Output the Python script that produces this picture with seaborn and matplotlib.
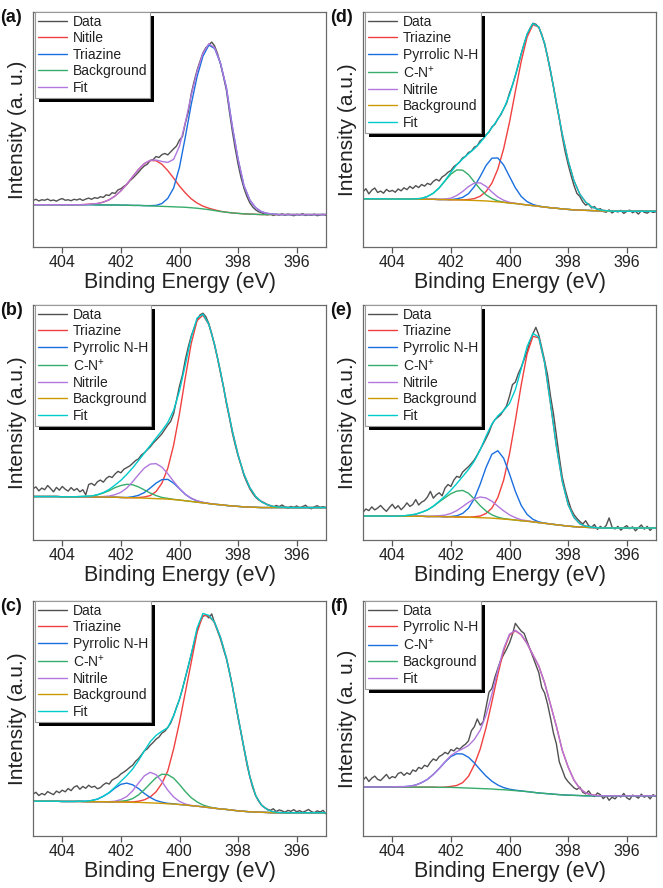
import numpy as np
import matplotlib
matplotlib.use('Agg')
import matplotlib.pyplot as plt
import matplotlib.patheffects as pe
import seaborn as sns

sns.set_style('white')
plt.rcParams['font.family'] = ['Liberation Sans', 'DejaVu Sans']
plt.rcParams['mathtext.default'] = 'regular'

# Binding energy axes: raw spectra every 0.1 eV, fitted curves every 0.2 eV
energy = np.round(np.linspace(405, 395, 101), 1)
grid = np.round(np.linspace(405, 395, 51), 1)

# ---------------- panel (a) ----------------
a_data = [.198, .203, .196, .201, .199, .204, .197, .200, .195, .202,
          .206, .199, .201, .197, .203, .200, .205, .198, .204, .208,
          .203, .210, .207, .214, .211, .222, .219, .231, .228, .243,
          .248, .258, .266, .281, .292, .305, .318, .333, .345, .352,
          .368, .372, .385, .381, .393, .398, .392, .405, .418, .430,
          .455, .470, .528, .575, .652, .705, .752, .790, .826, .848,
          .860, .872, .855, .822, .778, .725, .668, .580, .495, .420,
          .352, .295, .250, .215, .188, .170, .158, .150, .146, .140,
          .137, .142, .134, .139, .136, .141, .135, .140, .137, .133,
          .139, .136, .142, .134, .138, .135, .140, .133, .137, .139,
          .135]
a_bg = [.180, .180, .180, .180, .180, .180, .180, .180, .180, .180,
        .180, .179, .179, .179, .179, .178, .178, .177, .177, .176,
        .175, .174, .173, .172, .171, .170, .169, .167, .165, .162,
        .159, .155, .151, .148, .145, .143, .141, .140, .139, .138,
        .138, .138, .138, .138, .138, .138, .138, .138, .138, .138,
        .138]
a_nitile = [0, 0, 0, 0, 0, 0, 0, 0, 0, .001,
            .003, .006, .012, .022, .038, .061, .089, .122, .153, .179,
            .193, .193, .179, .153, .122, .089, .061, .038, .022, .012,
            .006, .003, .001, 0, 0, 0, 0, 0, 0, 0,
            0, 0, 0, 0, 0, 0, 0, 0, 0, 0,
            0]
a_triazine = [0, 0, 0, 0, 0, 0, 0, 0, 0, 0,
              0, 0, 0, 0, 0, 0, 0, 0, 0, 0,
              .001, .003, .012, .035, .080, .170, .300, .440, .560, .650,
              .700, .690, .630, .530, .370, .230, .120, .060, .028, .012,
              .005, .002, 0, 0, 0, 0, 0, 0, 0, 0,
              0]

# ---------------- panel (b) ----------------
b_data = [.218, .226, .209, .221, .214, .232, .219, .205, .224, .212,
          .228, .216, .208, .223, .211, .219, .205, .214, .192, .236,
          .241, .232, .248, .255, .246, .262, .271, .266, .281, .292,
          .286, .301, .308, .315, .326, .338, .345, .362, .371, .384,
          .396, .412, .425, .438, .452, .471, .489, .505, .538, .596,
          .655, .702, .768, .822, .868, .902, .935, .958, .965, .950,
          .921, .878, .826, .772, .710, .652, .581, .522, .458, .405,
          .358, .318, .275, .245, .218, .198, .182, .171, .164, .158,
          .151, .146, .139, .147, .142, .149, .141, .135, .143, .138,
          .145, .136, .142, .148, .137, .133, .141, .146, .138, .142,
          .137]
b_bg = [.185, .185, .185, .185, .185, .184, .184, .184, .184, .184,
        .183, .183, .183, .182, .182, .181, .180, .180, .179, .178,
        .177, .176, .175, .174, .172, .170, .167, .164, .161, .158,
        .155, .152, .150, .147, .145, .143, .141, .140, .139, .138,
        .138, .138, .138, .138, .138, .138, .138, .138, .138, .138,
        .138]
b_triazine = [0, 0, 0, 0, 0, 0, 0, 0, 0, 0,
              0, 0, 0, 0, 0, 0, 0, 0, .002, .005,
              .012, .030, .067, .131, .232, .368, .525, .672, .773, .799,
              .762, .679, .566, .441, .321, .219, .139, .083, .046, .024,
              .012, .005, .002, .001, 0, 0, 0, 0, 0, 0,
              0]
b_pyrrolic = [0, 0, 0, 0, 0, 0, 0, 0, 0, 0,
              0, 0, 0, 0, 0, 0, .001, .004, .011, .024,
              .044, .066, .082, .084, .070, .048, .027, .013, .005, .002,
              0, 0, 0, 0, 0, 0, 0, 0, 0, 0,
              0, 0, 0, 0, 0, 0, 0, 0, 0, 0,
              0]
b_cn = [0, 0, 0, 0, 0, 0, 0, 0, .001, .002,
        .004, .009, .017, .028, .041, .051, .057, .055, .047, .035,
        .023, .013, .006, .003, .001, 0, 0, 0, 0, 0,
        0, 0, 0, 0, 0, 0, 0, 0, 0, 0,
        0, 0, 0, 0, 0, 0, 0, 0, 0, 0,
        0]
b_nitrile = [0, 0, 0, 0, 0, 0, 0, 0, 0, 0,
             0, .001, .002, .005, .011, .022, .041, .068, .099, .128,
             .146, .149, .135, .108, .077, .049, .027, .014, .006, .002,
             .001, 0, 0, 0, 0, 0, 0, 0, 0, 0,
             0, 0, 0, 0, 0, 0, 0, 0, 0, 0,
             0]

# ---------------- panel (c) ----------------
c_data = [.178, .186, .172, .181, .175, .189, .182, .176, .191, .184,
          .195, .188, .202, .193, .208, .214, .199, .211, .203, .216,
          .207, .212, .201, .206, .218, .226, .221, .238, .245, .252,
          .264, .272, .281, .292, .301, .318, .329, .345, .362, .371,
          .386, .398, .412, .421, .438, .446, .462, .481, .512, .548,
          .582, .625, .675, .722, .772, .821, .872, .912, .935, .941,
          .928, .945, .905, .872, .838, .795, .755, .702, .641, .572,
          .502, .438, .372, .305, .252, .205, .172, .148, .132, .121,
          .114, .109, .116, .104, .111, .107, .101, .109, .105, .112,
          .103, .108, .101, .106, .113, .104, .099, .107, .102, .109,
          .094]
c_bg = [.148, .148, .148, .148, .148, .147, .147, .147, .147, .146,
        .146, .146, .146, .145, .145, .145, .144, .143, .143, .142,
        .141, .140, .139, .137, .136, .134, .132, .129, .127, .124,
        .121, .118, .115, .113, .110, .107, .105, .103, .102, .101,
        .100, .099, .099, .099, .099, .099, .099, .099, .099, .099,
        .099]
c_triazine = [0, 0, 0, 0, 0, 0, 0, 0, 0, 0,
              0, 0, 0, 0, 0, 0, .001, .002, .005, .012,
              .025, .048, .085, .140, .235, .350, .480, .610, .740, .815,
              .815, .790, .730, .645, .530, .400, .270, .150, .070, .030,
              .012, .004, .001, 0, 0, 0, 0, 0, 0, 0,
              0]
c_pyrrolic = [0, 0, 0, 0, 0, 0, 0, 0, .001, .002,
              .005, .011, .023, .039, .059, .075, .081, .075, .059, .039,
              .023, .011, .005, .002, .001, 0, 0, 0, 0, 0,
              0, 0, 0, 0, 0, 0, 0, 0, 0, 0,
              0, 0, 0, 0, 0, 0, 0, 0, 0, 0,
              0]
c_cn = [0, 0, 0, 0, 0, 0, 0, 0, 0, 0,
        0, 0, 0, 0, .001, .003, .007, .016, .032, .055,
        .082, .108, .124, .124, .110, .085, .057, .034, .018, .008,
        .003, .001, 0, 0, 0, 0, 0, 0, 0, 0,
        0, 0, 0, 0, 0, 0, 0, 0, 0, 0,
        0]
c_nitrile = [0, 0, 0, 0, 0, 0, 0, 0, 0, 0,
             0, 0, 0, .001, .003, .010, .024, .049, .082, .114,
             .130, .121, .093, .058, .030, .013, .004, .001, 0, 0,
             0, 0, 0, 0, 0, 0, 0, 0, 0, 0,
             0, 0, 0, 0, 0, 0, 0, 0, 0, 0,
             0]

# ---------------- panel (d) ----------------
d_data = [.235, .248, .226, .242, .251, .232, .238, .229, .245, .236,
          .241, .233, .247, .239, .252, .244, .258, .249, .261, .253,
          .266, .259, .271, .265, .279, .288, .281, .298, .306, .318,
          .325, .342, .351, .362, .379, .386, .402, .408, .425, .431,
          .452, .461, .478, .489, .511, .522, .545, .562, .588, .612,
          .655, .688, .729, .774, .822, .865, .902, .931, .952, .948,
          .934, .905, .862, .809, .745, .682, .610, .545, .470, .405,
          .352, .305, .262, .228, .215, .192, .178, .184, .166, .172,
          .158, .163, .151, .148, .158, .145, .153, .149, .156, .143,
          .151, .157, .146, .152, .140, .155, .148, .144, .153, .147,
          .150]
d_bg = [.205, .205, .205, .205, .205, .204, .204, .204, .204, .204,
        .203, .203, .203, .202, .202, .201, .201, .200, .199, .198,
        .197, .196, .194, .192, .190, .187, .185, .182, .179, .176,
        .173, .170, .167, .165, .162, .160, .158, .157, .156, .155,
        .154, .153, .152, .152, .152, .152, .152, .152, .152, .152,
        .152]
d_triazine = [0, 0, 0, 0, 0, 0, 0, 0, 0, 0,
              0, 0, 0, 0, 0, 0, 0, .001, .003, .008,
              .019, .040, .078, .139, .228, .344, .477, .608, .714, .770,
              .763, .696, .583, .450, .319, .208, .124, .068, .035, .016,
              .007, .003, .001, 0, 0, 0, 0, 0, 0, 0,
              0]
d_pyrrolic = [0, 0, 0, 0, 0, 0, 0, 0, 0, 0,
              0, 0, 0, 0, 0, .001, .004, .011, .028, .059,
              .103, .151, .184, .187, .159, .113, .067, .033, .014, .005,
              .001, 0, 0, 0, 0, 0, 0, 0, 0, 0,
              0, 0, 0, 0, 0, 0, 0, 0, 0, 0,
              0]
d_cn = [0, 0, 0, 0, 0, 0, 0, 0, 0, .001,
        .004, .012, .026, .049, .079, .109, .127, .127, .109, .079,
        .049, .026, .012, .004, .001, 0, 0, 0, 0, 0,
        0, 0, 0, 0, 0, 0, 0, 0, 0, 0,
        0, 0, 0, 0, 0, 0, 0, 0, 0, 0,
        0]
d_nitrile = [0, 0, 0, 0, 0, 0, 0, 0, 0, 0,
             0, 0, 0, .001, .002, .007, .018, .036, .058, .074,
             .076, .062, .040, .021, .009, .003, .001, 0, 0, 0,
             0, 0, 0, 0, 0, 0, 0, 0, 0, 0,
             0, 0, 0, 0, 0, 0, 0, 0, 0, 0,
             0]

# ---------------- panel (e) ----------------
e_data = [.118, .132, .125, .141, .128, .136, .147, .133, .122, .138,
          .152, .134, .146, .129, .141, .158, .143, .151, .172, .149,
          .161, .168, .183, .207, .178, .192, .201, .188, .221, .236,
          .228, .255, .271, .266, .289, .301, .312, .326, .341, .362,
          .385, .408, .432, .458, .491, .512, .522, .533, .552, .571,
          .612, .661, .672, .708, .735, .768, .802, .845, .878, .905,
          .872, .818, .762, .701, .612, .538, .445, .352, .268, .215,
          .171, .132, .108, .092, .079, .068, .082, .061, .054, .066,
          .045, .058, .049, .062, .094, .055, .047, .058, .042, .053,
          .061, .048, .056, .039, .052, .064, .046, .058, .041, .053,
          .049]
e_bg = [.102, .102, .102, .102, .102, .101, .101, .101, .101, .101,
        .101, .100, .100, .100, .099, .099, .098, .098, .097, .096,
        .095, .094, .093, .091, .089, .087, .085, .082, .080, .077,
        .074, .071, .068, .065, .062, .059, .057, .055, .054, .053,
        .052, .051, .051, .051, .051, .051, .051, .051, .051, .051,
        .051]
e_triazine = [0, 0, 0, 0, 0, 0, 0, 0, 0, 0,
              0, 0, 0, 0, 0, 0, 0, 0, 0, .003,
              .007, .019, .043, .089, .166, .279, .423, .578, .712, .790,
              .786, .681, .512, .334, .188, .092, .039, .014, .005, .002,
              0, 0, 0, 0, 0, 0, 0, 0, 0, 0,
              0]
e_pyrrolic = [0, 0, 0, 0, 0, 0, 0, 0, 0, 0,
              0, 0, 0, 0, 0, .001, .005, .015, .038, .080,
              .143, .215, .272, .289, .259, .194, .122, .065, .029, .011,
              .003, .001, 0, 0, 0, 0, 0, 0, 0, 0,
              0, 0, 0, 0, 0, 0, 0, 0, 0, 0,
              0]
e_cn = [0, 0, 0, 0, 0, 0, .001, .002, .005, .009,
        .017, .028, .043, .062, .081, .098, .110, .113, .102, .078,
        .051, .029, .014, .006, .002, .001, 0, 0, 0, 0,
        0, 0, 0, 0, 0, 0, 0, 0, 0, 0,
        0, 0, 0, 0, 0, 0, 0, 0, 0, 0,
        0]
e_nitrile = [0, 0, 0, 0, 0, 0, 0, 0, 0, 0,
             0, 0, .001, .003, .007, .014, .027, .044, .063, .079,
             .088, .085, .072, .053, .035, .020, .010, .004, .002, .001,
             0, 0, 0, 0, 0, 0, 0, 0, 0, 0,
             0, 0, 0, 0, 0, 0, 0, 0, 0, 0,
             0]

# ---------------- panel (f) ----------------
f_data = [.238, .251, .232, .246, .255, .241, .236, .249, .262, .244,
          .253, .248, .266, .271, .258, .269, .262, .281, .275, .292,
          .286, .301, .295, .314, .328, .321, .338, .345, .356, .349,
          .368, .362, .375, .369, .382, .391, .405, .448, .465, .498,
          .472, .485, .548, .612, .628, .675, .712, .748, .772, .795,
          .822, .858, .905, .888, .872, .862, .828, .795, .762, .728,
          .695, .632, .608, .561, .502, .438, .392, .315, .282, .248,
          .231, .218, .205, .198, .208, .186, .179, .192, .174, .168,
          .183, .176, .159, .171, .152, .165, .158, .172, .166, .181,
          .163, .155, .174, .169, .161, .178, .165, .172, .158, .176,
          .168]
f_bg = [.209, .209, .209, .209, .209, .209, .209, .208, .208, .208,
        .208, .208, .208, .207, .207, .207, .206, .205, .204, .203,
        .202, .201, .200, .198, .197, .195, .193, .191, .189, .186,
        .183, .181, .179, .177, .175, .174, .173, .172, .171, .171,
        .171, .171, .171, .171, .171, .171, .171, .171, .171, .171,
        .171]
f_pyrrolic = [0, 0, 0, 0, 0, 0, 0, 0, 0, 0,
              0, 0, 0, 0, .001, .004, .009, .022, .050, .100,
              .168, .260, .371, .488, .591, .660, .680, .665, .630, .585,
              .540, .470, .380, .290, .190, .120, .065, .030, .012, .004,
              .001, 0, 0, 0, 0, 0, 0, 0, 0, 0,
              0]
f_cn = [0, 0, 0, 0, 0, 0, .001, .002, .004, .009,
        .019, .033, .054, .080, .108, .131, .144, .144, .131, .108,
        .080, .054, .033, .019, .009, .004, .002, .001, 0, 0,
        0, 0, 0, 0, 0, 0, 0, 0, 0, 0,
        0, 0, 0, 0, 0, 0, 0, 0, 0, 0,
        0]

ticks = [404, 402, 400, 398, 396]
colors = ['#515151', '#F14040', '#1A6FDF', '#37AD6B', '#B177DE', '#CC9900', '#00CBCC']
cn_label = 'C-N$^{+}$'

panels = [
    ('(a)', 'Intensity (a. u.)', a_data, a_bg,
     [('Nitile', a_nitile), ('Triazine', a_triazine)]),
    ('(b)', 'Intensity (a.u.)', b_data, b_bg,
     [('Triazine', b_triazine), ('Pyrrolic N-H', b_pyrrolic),
      (cn_label, b_cn), ('Nitrile', b_nitrile)]),
    ('(c)', 'Intensity (a.u.)', c_data, c_bg,
     [('Triazine', c_triazine), ('Pyrrolic N-H', c_pyrrolic),
      (cn_label, c_cn), ('Nitrile', c_nitrile)]),
    ('(d)', 'Intensity (a.u.)', d_data, d_bg,
     [('Triazine', d_triazine), ('Pyrrolic N-H', d_pyrrolic),
      (cn_label, d_cn), ('Nitrile', d_nitrile)]),
    ('(e)', 'Intensity (a.u.)', e_data, e_bg,
     [('Triazine', e_triazine), ('Pyrrolic N-H', e_pyrrolic),
      (cn_label, e_cn), ('Nitrile', e_nitrile)]),
    ('(f)', 'Intensity (a. u.)', f_data, f_bg,
     [('Pyrrolic N-H', f_pyrrolic), (cn_label, f_cn)]),
]

# axes boxes in pixels: left, top (from figure top)
W, H = 663, 888
boxes = [(33, 12), (33, 305), (33, 601), (363, 12), (363, 305), (363, 601)]
ax_w, ax_h = 293, 235


def draw_panel(ax, letter, ylabel, data, bg, peaks):
    lw = 1.0
    sns.lineplot(x=energy, y=data, ax=ax, color=colors[0], lw=lw, label='Data')
    bg = np.array(bg)
    fit = bg.copy()
    n = 1
    for name, peak in peaks:
        sns.lineplot(x=grid, y=bg + np.array(peak), ax=ax,
                     color=colors[n], lw=lw, label=name)
        fit = fit + np.array(peak)
        n += 1
    sns.lineplot(x=grid, y=bg, ax=ax, color=colors[n], lw=lw, label='Background')
    sns.lineplot(x=grid, y=fit, ax=ax, color=colors[n + 1], lw=lw, label='Fit')

    ax.set_xlim(405, 395)
    ax.set_ylim(0, 1)
    ax.set_xticks(ticks)
    ax.set_yticks([])
    ax.tick_params(axis='x', bottom=True, direction='out', length=4,
                   width=0.9, color='#555555', labelsize=11.5, pad=2,
                   labelcolor='#222222')
    for sp in ax.spines.values():
        sp.set_color('#6a6a6a')
        sp.set_linewidth(0.9)
    ax.set_xlabel('Binding Energy (eV)', fontsize=15.5, labelpad=1, color='#222222')
    ax.set_ylabel(ylabel, fontsize=15, labelpad=4, color='#222222')

    leg = ax.legend(loc='upper left', bbox_to_anchor=(0.006, 1.0),
                    borderaxespad=0, frameon=True, fancybox=False,
                    framealpha=1, edgecolor='#9a9a9a', fontsize=10,
                    handlelength=2.1, handletextpad=0.45, labelspacing=0.18,
                    borderpad=0.2)
    frame = leg.get_frame()
    frame.set_linewidth(0.8)
    frame.set_path_effects([pe.withSimplePatchShadow(offset=(3, -3),
                                                     shadow_rgbFace='black',
                                                     alpha=1.0)])
    for t in leg.get_texts():
        t.set_color('#222222')


fig = plt.figure(figsize=(W / 100, H / 100), dpi=100)
for (letter, ylabel, data, bg, peaks), (left, top) in zip(panels, boxes):
    ax = fig.add_axes([left / W, 1 - (top + ax_h) / H, ax_w / W, ax_h / H])
    draw_panel(ax, letter, ylabel, data, bg, peaks)
    fig.text((left - 33) / W, 1 - (top - 3) / H, letter, fontsize=13,
             fontweight='bold', va='top', ha='left', color='#111111')

fig.savefig('out.png', dpi=100)
